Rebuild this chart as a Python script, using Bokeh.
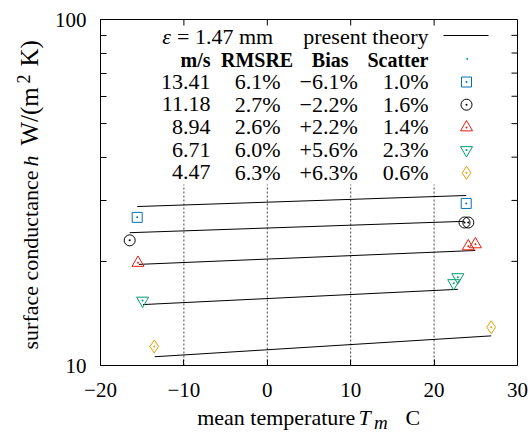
import math
from bokeh.plotting import figure
from bokeh.models import (Range1d, FixedTicker, Label, BoxAnnotation, LinearAxis, LogAxis,
                          CustomJSTickFormatter, BasicTickFormatter)
from bokeh.embed import file_html
from bokeh.resources import INLINE

# ---------------- data ----------------
speeds = ["13.41", "11.18", "8.94", "6.71", "4.47"]
rmsre = ["6.1%", "2.7%", "2.6%", "6.0%", "6.3%"]
bias = ["\u22126.1%", "\u22122.2%", "+2.2%", "+5.6%", "+6.3%"]
scatter_pct = ["1.0%", "1.6%", "1.4%", "2.3%", "0.6%"]

meas_T = [[-15.6, 23.85], [-16.5, 23.65, 24.1], [-15.5, 24.1, 24.95],
          [-14.95, 22.35, 22.85], [-13.55, 26.85]]
meas_h = [[26.8, 29.4], [23.0, 25.9, 25.9], [19.8, 22.1, 22.4],
          [15.4, 17.3, 18.0], [11.35, 12.9]]
theory_T = [[-15.6, 23.85], [-16.5, 23.6], [-15.4, 24.95],
            [-14.9, 22.85], [-13.5, 26.85]]
theory_h = [[28.8, 31.0], [24.2, 26.1], [19.6, 21.5],
            [15.0, 16.6], [10.6, 12.18]]

x_min, x_max = -20, 30
y_min, y_max = 10, 100
x_ticks = [-20, -10, 0, 10, 20, 30]
x_grid = [-10, 0, 10, 20]
y_ticks = [10, 100]
y_minor = [20, 30, 40, 50, 60, 70, 80, 90]

# ---------------- styles ----------------
colors = ["#0072b2", "#000000", "#e51e10", "#009e73", "#e69f00"]
markers = ["square", "circle", "triangle", "inverted_triangle", "diamond"]
msizes = [10, 11, 12, 12, 13]
FONT = "Liberation Serif"
FS = 22
FSB = 20

W, H = 531, 433
# plot box in canvas pixels
FL, FR, FT, FB = 100, 517, 19, 365
TICK = 6
BASE_SHIFT = 0.36  # label anchor to alphabetic baseline, in em


def X(px):
    return x_min + (px - FL) * float(x_max - x_min) / (FR - FL)


def Y(py):
    return 10 ** (math.log10(y_min) + (FB - py) / float(FB - FT)
                  * (math.log10(y_max) - math.log10(y_min)))


p = figure(width=W, height=H, x_range=Range1d(X(0), X(W)), y_range=Range1d(Y(H), Y(0)),
           y_axis_type="log", x_axis_location=None, y_axis_location=None,
           output_backend="svg", toolbar_location=None,
           min_border_left=0, min_border_right=0, min_border_top=0, min_border_bottom=0)
p.outline_line_color = None
p.background_fill_color = "white"
p.border_fill_color = "white"
p.xgrid.visible = False
p.ygrid.visible = False


def style_axis(ax):
    ax.axis_line_color = "black"
    ax.major_tick_in = TICK
    ax.major_tick_out = 0
    ax.minor_tick_in = TICK
    ax.minor_tick_out = 0
    ax.major_tick_line_color = "black"
    ax.minor_tick_line_color = "black"
    ax.major_label_text_font = FONT
    ax.major_label_text_color = "black"
    ax.major_label_text_font_size = "21px"


xfmt_code = "return tick < 0 ? '\\u2212' + Math.abs(tick) : tick.toString();"

xa = LinearAxis(fixed_location=y_min, bounds=(x_min, x_max),
                ticker=FixedTicker(ticks=x_ticks, minor_ticks=[]),
                formatter=CustomJSTickFormatter(code=xfmt_code))
style_axis(xa)
xa.major_label_standoff = 17
p.add_layout(xa, "below")

ya = LogAxis(fixed_location=x_min, bounds=(y_min, y_max),
             ticker=FixedTicker(ticks=y_ticks, minor_ticks=y_minor),
             formatter=BasicTickFormatter())
style_axis(ya)
ya.major_label_standoff = 14
p.add_layout(ya, "left")

# plot border
p.add_layout(BoxAnnotation(left=x_min, right=x_max, bottom=y_min, top=y_max,
                           fill_alpha=0, line_color="black", line_width=1, line_alpha=1))

# dotted grid lines (below the key block)
p.segment(x0=x_grid, y0=[y_min] * len(x_grid), x1=x_grid, y1=[Y(184)] * len(x_grid),
          line_color="#444444", line_width=1, line_dash="2 2")

# mirrored ticks on top and right edges
p.segment(x0=x_grid, y0=[y_max] * len(x_grid), x1=x_grid, y1=[Y(FT + TICK)] * len(x_grid),
          line_color="black", line_width=1)
p.segment(x0=[x_max] * len(y_minor), y0=y_minor, x1=[X(FR - TICK)] * len(y_minor), y1=y_minor,
          line_color="black", line_width=1)

# ---------------- data marks ----------------
for i in range(5):
    p.line(theory_T[i], theory_h[i], line_color="black", line_width=1)
    p.scatter(meas_T[i], meas_h[i], marker=markers[i], size=msizes[i],
              line_color=colors[i], fill_color=None, line_width=1)
    p.scatter(meas_T[i], meas_h[i], marker="circle", size=2,
              fill_color=colors[i], line_color=None)


# ---------------- text helper (px, py = start/end point on the baseline) ----------------
def lab(px, py, text, align="left", style="normal", size=FS, rotated=False):
    shift = BASE_SHIFT * size
    if rotated:
        ax_, ay_, ang = px - shift, py, math.pi / 2
    else:
        ax_, ay_, ang = px, py - shift, 0.0
    p.add_layout(Label(x=X(ax_), y=Y(ay_), text=text, text_font=FONT,
                       text_font_size="%gpx" % size, text_font_style=style,
                       text_align=align, text_baseline="alphabetic",
                       text_color="black", angle=ang))


# ---------------- key ----------------
lab(161.7, 43.5, "\u03b5", style="italic")
lab(176.5, 43.5, "= 1.47 mm")
lab(428, 43.5, "present theory", align="right")
p.line([X(443), X(488)], [Y(35), Y(35)], line_color="black", line_width=1)

hdr_y = 66.5
lab(210, hdr_y, "m/s", align="right", style="bold", size=FSB)
lab(292.7, hdr_y, "RMSRE", align="right", style="bold", size=FSB)
lab(348, hdr_y, "Bias", align="right", style="bold", size=FSB)
lab(428, hdr_y, "Scatter", align="right", style="bold", size=FSB)
p.scatter([X(466.7)], [Y(58.5)], marker="circle", size=2,
          fill_color="#009e73", line_color=None)

for i in range(5):
    by = 89 + 22.7 * i
    lab(210, by, speeds[i], align="right")
    lab(280, by, rmsre[i], align="right")
    lab(357.3, by, bias[i], align="right")
    lab(428, by, scatter_pct[i], align="right")
    cy = by - 7.5
    p.scatter([X(466)], [Y(cy)], marker=markers[i], size=msizes[i],
              line_color=colors[i], fill_color=None, line_width=1)
    p.scatter([X(466)], [Y(cy)], marker="circle", size=2,
              fill_color=colors[i], line_color=None)

# ---------------- axis titles ----------------
lab(196.7, 424.5, "mean temperature")
lab(358, 424.5, "T", style="italic")
lab(373.5, 428.5, "m", style="italic", size=19)
lab(405, 424.5, "C")

lab(38, 349, "surface conductance", rotated=True)
lab(38, 166, "h", style="italic", rotated=True)
lab(38, 145, "W/(m", size=25, rotated=True)
lab(29, 83, "2", size=18, rotated=True)
lab(38, 66, "K)", size=25, rotated=True)

open("out.html", "w").write(file_html(p, INLINE))
